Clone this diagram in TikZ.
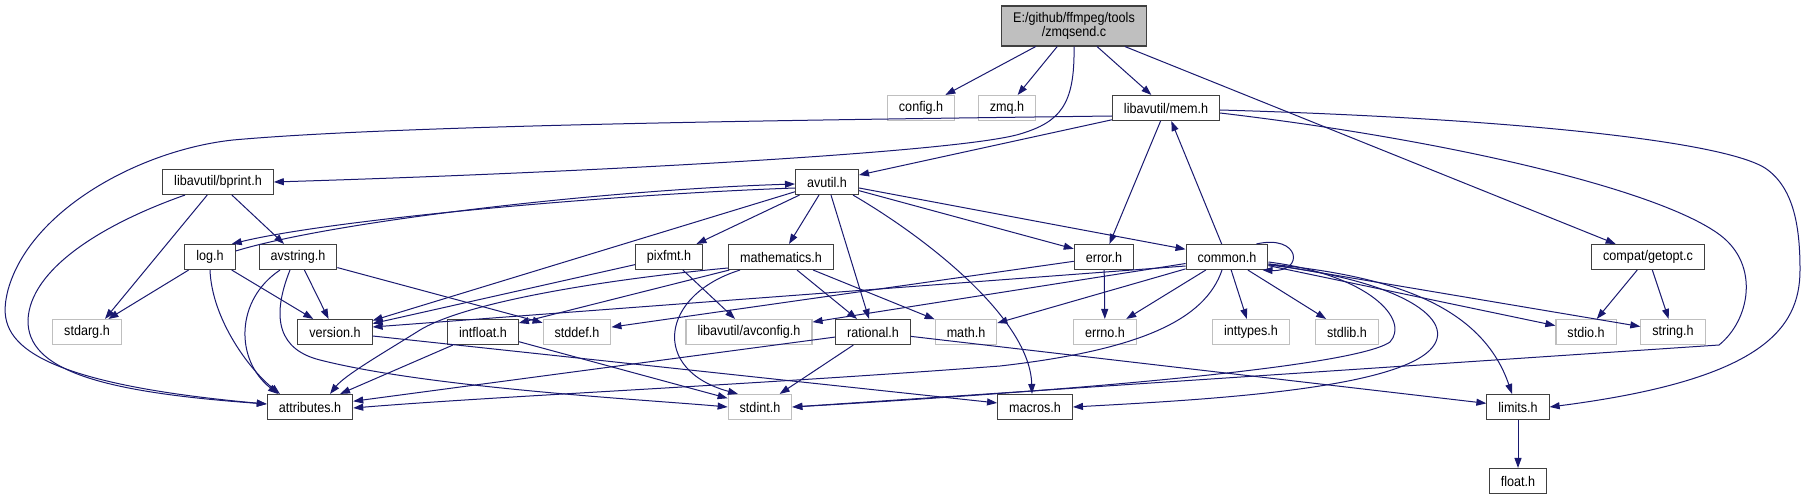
\documentclass[tikz,border=0pt]{standalone}
\usepackage{fontspec}
\setmainfont{Liberation Sans}
\newfontfamily\dotfont[FakeStretch=0.9]{Liberation Sans}
\usetikzlibrary{arrows.meta}
\definecolor{edgeblue}{HTML}{191970}

\begin{document}
\begin{tikzpicture}[x=1pt,y=-1pt,>={Triangle[length=10pt,width=7pt]},
  every node/.style={font=\dotfont\fontsize{14}{14}\selectfont},
  hdr/.style={draw=black!75,line width=1.1pt,fill=white,inner xsep=11.5pt,
    minimum height=25pt},
  syshdr/.style={hdr,draw=black!25},
  srcbox/.style={hdr,fill=black!25,align=center,minimum height=40pt},
  dep/.style={->,draw=edgeblue,line width=1pt}]
 \fill[white] (0,0) rectangle (1807,500);
 \useasboundingbox (0,0) rectangle (1807,500);
 % files
 \node[srcbox] (zmqsend) at (1074,26) {E:/github/ffmpeg/tools\\/zmqsend.c};
 \node[syshdr] (config) at (921,108) {config.h};
 \node[syshdr] (zmq) at (1007,108) {zmq.h};
 \node[hdr] (mem) at (1166,108) {libavutil/mem.h};
 \node[hdr] (bprint) at (218,182) {libavutil/bprint.h};
 \node[hdr] (avutil) at (827,182) {avutil.h};
 \node[hdr] (log) at (210,257) {log.h};
 \node[hdr] (avstring) at (298,257) {avstring.h};
 \node[hdr] (pixfmt) at (669,257) {pixfmt.h};
 \node[hdr] (mathematics) at (781,257) {mathematics.h};
 \node[hdr] (error) at (1104,257) {error.h};
 \node[hdr] (common) at (1227,257) {common.h};
 \node[hdr] (getopt) at (1648,257) {compat/getopt.c};
 \node[syshdr] (stdarg) at (87,332) {stdarg.h};
 \node[hdr] (version) at (335,332) {version.h};
 \node[hdr] (intfloat) at (483,332) {intfloat.h};
 \node[syshdr] (stddef) at (577,332) {stddef.h};
 \node[syshdr] (avconfig) at (749,332) {libavutil/avconfig.h};
 \node[hdr] (rational) at (873,332) {rational.h};
 \node[syshdr] (math) at (966,332) {math.h};
 \node[syshdr] (errno) at (1105,332) {errno.h};
 \node[syshdr] (inttypes) at (1251,332) {inttypes.h};
 \node[syshdr] (stdlib) at (1347,332) {stdlib.h};
 \node[syshdr] (stdio) at (1586,332) {stdio.h};
 \node[syshdr] (string) at (1673,332) {string.h};
 \node[hdr] (attributes) at (310,407) {attributes.h};
 \node[syshdr] (stdint) at (760,407) {stdint.h};
 \node[hdr] (macros) at (1035,407) {macros.h};
 \node[hdr] (limits) at (1518,407) {limits.h};
 \node[hdr] (float) at (1518,481) {float.h};
 % zmqsend.c
 \draw[dep] (zmqsend) -- (config);
 \draw[dep] (zmqsend) -- (zmq);
 \draw[dep] (zmqsend) -- (mem);
 \draw[dep] (zmqsend) -- (getopt);
 \draw[dep] (zmqsend.south) .. controls (1075,105) and (1060,122) .. (1020,134)
   .. controls (960,152) and (600,172) .. (bprint.east);
 % libavutil/mem.h
 \draw[dep] (mem) -- (avutil);
 \draw[dep] (mem) -- (error);
 \draw[dep] ([yshift=-8pt]mem.west) .. controls (800,120) and (400,125) .. (233,140)
   .. controls (140,150) and (30,210) .. (8,290)
   .. controls (-2,330) and (0,380) .. ([yshift=3pt]attributes.west);
 \draw[dep] ([yshift=-2pt]mem.east) .. controls (1500,118) and (1720,140) .. (1765,168)
   .. controls (1795,188) and (1800,230) .. (1800,270)
   .. controls (1800,330) and (1760,380) .. (limits.east);
 \draw[dep] ([yshift=-5pt]mem.east) .. controls (1450,140) and (1660,190) .. (1720,235)
   .. controls (1760,265) and (1750,320) .. (1719,345) -- (stdint.east);
 % libavutil/bprint.h
 \draw[dep] ([xshift=-33pt]bprint.south) .. controls (100,225) and (30,270) .. (28,320)
   .. controls (27,370) and (100,392) .. ([yshift=3pt]attributes.west);
 \draw[dep] (bprint) -- ([xshift=18pt]stdarg.north);
 \draw[dep] (bprint) -- (avstring);
 % avutil.h
 \draw[dep] ([yshift=-6pt]avutil.west) .. controls (600,195) and (330,220) .. ([xshift=-4pt]log.north east);
 \draw[dep] (avutil) -- (version);
 \draw[dep] (avutil) -- (pixfmt);
 \draw[dep] (avutil) -- (mathematics);
 \draw[dep] (avutil) -- (rational);
 \draw[dep] ([xshift=26pt]avutil.south) .. controls (930,240) and (1030,320) .. ([xshift=-3pt]macros.north);
 \draw[dep] (avutil) -- (error);
 \draw[dep] (avutil) -- (common);
 % log.h
 \draw[dep] ([yshift=6pt]log.east) .. controls (330,222) and (600,190) .. ([yshift=-2pt]avutil.west);
 \draw[dep] (log) -- (stdarg);
 \draw[dep] (log) -- (version);
 \draw[dep] (log.south) .. controls (212,320) and (250,370) .. ([xshift=-30pt]attributes.north);
 % avstring.h
 \draw[dep] (avstring) -- (version);
 \draw[dep] ([xshift=-18pt]avstring.south) .. controls (235,300) and (235,360) .. ([xshift=-32pt]attributes.north);
 \draw[dep] ([xshift=-8pt]avstring.south) .. controls (270,320) and (280,350) .. (320,360)
   .. controls (430,388) and (650,400) .. (stdint.west);
 \draw[dep] (avstring) -- (stddef);
 % pixfmt.h
 \draw[dep] (pixfmt) -- (version);
 \draw[dep] (pixfmt) -- (avconfig);
 % mathematics.h
 \draw[dep] ([yshift=-11pt]mathematics.west) .. controls (620,278) and (470,300) .. (420,330)
   .. controls (385,352) and (345,375) .. ([xshift=20pt]attributes.north);
 \draw[dep] (mathematics) -- (intfloat);
 \draw[dep] ([xshift=-41pt]mathematics.south) .. controls (660,295) and (650,370) .. ([xshift=-22pt]stdint.north);
 \draw[dep] (mathematics) -- (rational);
 \draw[dep] (mathematics) -- (math);
 % error.h
 \draw[dep] (error) -- (errno);
 \draw[dep] (error) -- (stddef);
 % common.h
 \draw[dep] (common) -- (mem);
 \draw[dep] ([yshift=-9pt]common.west) -- ([yshift=5pt]version.east);
 \draw[dep] (common) -- (avconfig);
 \draw[dep] (common) -- (math);
 \draw[dep] (common) -- (errno);
 \draw[dep] (common) -- (inttypes);
 \draw[dep] (common) -- (stdlib);
 \draw[dep] (common) -- (stdio);
 \draw[dep] (common) -- (string);
 \draw[dep] ([yshift=-7pt]common.east) .. controls (1380,275) and (1480,300) .. ([xshift=-6pt]limits.north);
 \draw[dep] ([yshift=-8pt]common.east) .. controls (1400,280) and (1460,320) .. (1430,350)
   .. controls (1390,390) and (1200,400) .. (macros.east);
 \draw[dep] ([yshift=-5pt]common.east) .. controls (1370,275) and (1410,320) .. (1390,342)
   .. controls (1350,370) and (1000,395) .. (stdint.east);
 \draw[dep] ([xshift=-5pt]common.south) .. controls (1205,320) and (1140,350) .. (1000,366)
   .. controls (750,385) and (500,396) .. ([yshift=-1pt]attributes.east);
 \draw[dep] ([xshift=-12pt]common.north east) .. controls (1300,234) and (1305,272) .. ([xshift=-6pt]common.south east);
 % compat/getopt.c
 \draw[dep] (getopt) -- (stdio);
 \draw[dep] (getopt) -- (string);
 % intfloat.h, version.h, rational.h, limits.h
 \draw[dep] (intfloat) -- (attributes);
 \draw[dep] (intfloat) -- (stdint);
 \draw[dep] (version) -- (macros);
 \draw[dep] (rational) -- (attributes);
 \draw[dep] (rational) -- (stdint);
 \draw[dep] (rational) -- (limits);
 \draw[dep] (limits) -- (float);
\end{tikzpicture}
\end{document}
